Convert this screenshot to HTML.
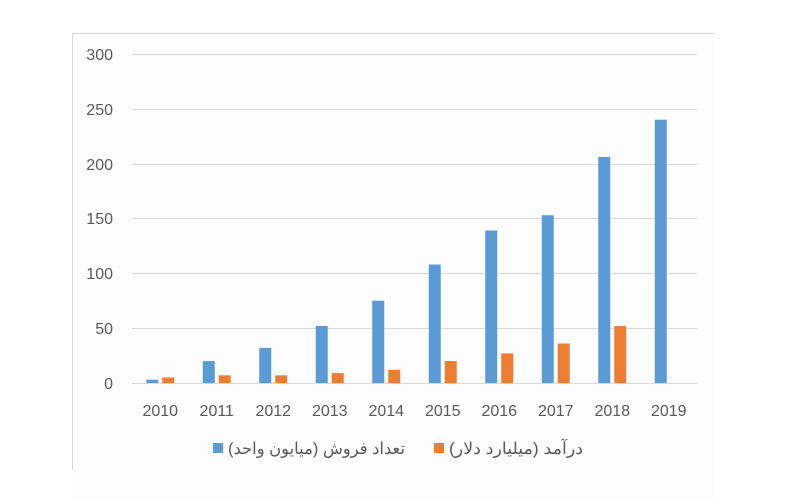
<!DOCTYPE html>
<html><head><meta charset="utf-8"><style>html,body{margin:0;padding:0;background:#fff;overflow:hidden;width:785px;height:500px}svg{display:block}</style></head><body>
<svg width="785" height="500" xmlns="http://www.w3.org/2000/svg" font-family="'Liberation Sans', sans-serif">
<rect width="785" height="500" fill="#fff"/>
<rect x="72" y="33" width="643" height="467" fill="#fdfdfd"/>
<line x1="72" x2="715" y1="33.5" y2="33.5" stroke="#d9d9d9"/>
<line x1="72.5" x2="72.5" y1="33" y2="470" stroke="#d9d9d9"/>
<g stroke="#d9d9d9" stroke-width="1">
<line x1="132" x2="697" y1="54.5" y2="54.5"/>
<line x1="132" x2="697" y1="109.5" y2="109.5"/>
<line x1="132" x2="697" y1="164.5" y2="164.5"/>
<line x1="132" x2="697" y1="218.5" y2="218.5"/>
<line x1="132" x2="697" y1="273.5" y2="273.5"/>
<line x1="132" x2="697" y1="328.5" y2="328.5"/>
<line x1="132" x2="697" y1="383.5" y2="383.5"/>
</g>
<g font-size="16" fill="#595959" text-anchor="end">
<text x="113" y="60">300</text><text x="113" y="115">250</text><text x="113" y="170">200</text>
<text x="113" y="224">150</text><text x="113" y="279">100</text><text x="113" y="334">50</text><text x="113" y="389">0</text>
</g>
<g fill="#5b9bd5">
<rect x="146.25" y="379.7" width="12" height="3.3"/>
<rect x="202.75" y="361.1" width="12" height="21.9"/>
<rect x="259.25" y="347.9" width="12" height="35.1"/>
<rect x="315.75" y="326" width="12" height="57"/>
<rect x="372.25" y="300.7" width="12" height="82.3"/>
<rect x="428.75" y="264.5" width="12" height="118.5"/>
<rect x="485.25" y="230.5" width="12" height="152.5"/>
<rect x="541.75" y="215.2" width="12" height="167.8"/>
<rect x="598.25" y="157" width="12" height="226"/>
<rect x="654.75" y="119.7" width="12" height="263.3"/>
</g>
<g fill="#ed7d31">
<rect x="162.25" y="377.5" width="12" height="5.5"/>
<rect x="218.75" y="375.3" width="12" height="7.7"/>
<rect x="275.25" y="375.3" width="12" height="7.7"/>
<rect x="331.75" y="373.1" width="12" height="9.9"/>
<rect x="388.25" y="369.8" width="12" height="13.2"/>
<rect x="444.75" y="361.1" width="12" height="21.9"/>
<rect x="501.25" y="353.4" width="12" height="29.6"/>
<rect x="557.75" y="343.5" width="12" height="39.5"/>
<rect x="614.25" y="326" width="12" height="57"/>
</g>
<g font-size="16" fill="#595959" text-anchor="middle">
<text x="160.25" y="416">2010</text><text x="216.75" y="416">2011</text><text x="273.25" y="416">2012</text>
<text x="329.75" y="416">2013</text><text x="386.25" y="416">2014</text><text x="442.75" y="416">2015</text>
<text x="499.25" y="416">2016</text><text x="555.75" y="416">2017</text><text x="612.25" y="416">2018</text>
<text x="668.75" y="416">2019</text>
</g>
<rect x="213" y="443" width="10" height="10" fill="#5b9bd5"/>
<text x="228" y="454" font-size="16.5" fill="#595959" textLength="177" lengthAdjust="spacingAndGlyphs" style="direction:rtl" text-anchor="end">تعداد فروش (میایون واحد)</text>
<rect x="434" y="443" width="10" height="10" fill="#ed7d31"/>
<text x="449" y="454" font-size="16.5" fill="#595959" textLength="134" lengthAdjust="spacingAndGlyphs" style="direction:rtl" text-anchor="end">درآمد (میلیارد دلار)</text>
</svg>
</body></html>
